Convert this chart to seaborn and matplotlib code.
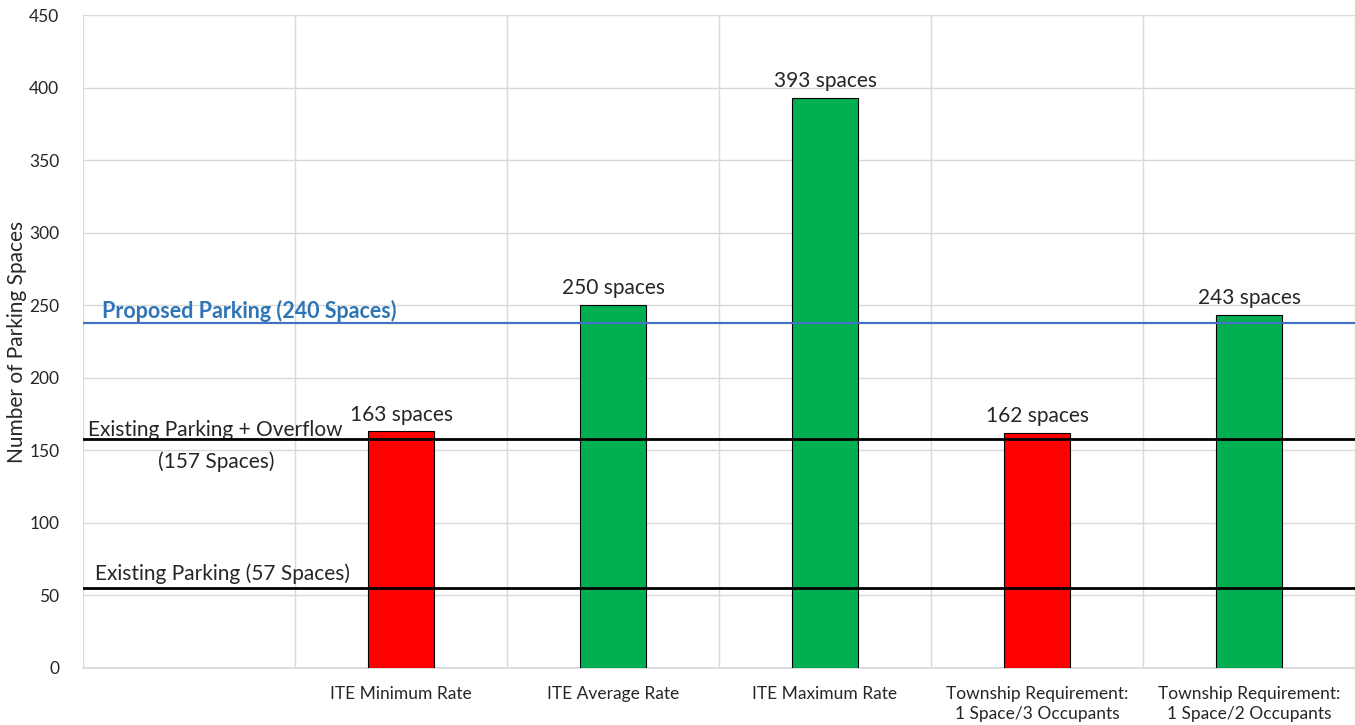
import matplotlib
matplotlib.use("Agg")
import matplotlib.pyplot as plt
import seaborn as sns
import pandas as pd
import numpy as np

categories = ["ITE Minimum Rate", "ITE Average Rate", "ITE Maximum Rate",
              "Township Requirement:\n1 Space/3 Occupants",
              "Township Requirement:\n1 Space/2 Occupants"]
spaces = [163, 250, 393, 162, 243]
bar_colors = ["#FF0000", "#00B050", "#00B050", "#FF0000", "#00B050"]
bar_labels = ["163 spaces", "250 spaces", "393 spaces", "162 spaces", "243 spaces"]

ref_values = [238, 158, 55]
ref_colors = ["#4472C4", "#000000", "#000000"]

y_ticks = [0, 50, 100, 150, 200, 250, 300, 350, 400, 450]

sns.set_theme(style="white")
plt.rcParams['font.family'] = ['Lato', 'DejaVu Sans']

fig = plt.figure(figsize=(13.55, 7.25), dpi=100)
ax = fig.add_axes([83/1355, 1 - 668/725, 1 - 83/1355, (668 - 15)/725])

df = pd.DataFrame({"cat": categories, "val": spaces})
sns.barplot(data=df, x="cat", y="val", hue="cat", palette=bar_colors, saturation=1,
            width=0.31, edgecolor="black", linewidth=0.8, legend=False, ax=ax, zorder=3)

ax.set_xlim(-1.5, len(categories) - 0.5)
ax.set_ylim(0, 450)
ax.set_yticks(y_ticks)
ax.set_xticks(range(len(categories)))
ax.set_xticklabels(categories, fontsize=12.5, linespacing=1.3)
ax.set_xticks(np.arange(-1.5, len(categories), 1.0), minor=True)
ax.tick_params(axis='y', length=0, labelsize=12.5, pad=17)
ax.tick_params(axis='x', length=0, pad=13)
ax.grid(axis='y', color="#D9D9D9", linewidth=1, zorder=0)
ax.grid(axis='x', which='minor', color="#D9D9D9", linewidth=1, zorder=0)
ax.set_axisbelow(True)
for s in ["top", "right", "left"]:
    ax.spines[s].set_visible(False)
ax.spines["bottom"].set_color("#D9D9D9")
ax.set_xlabel("")
ax.set_ylabel("Number of Parking Spaces", fontsize=15)
ax.yaxis.set_label_coords(-0.044, 0.5)

for i, v in enumerate(ref_values):
    ax.axhline(v, color=ref_colors[i], linewidth=2 if i else 1.6, zorder=4)

ax.text(-1.41, 246, "Proposed Parking (240 Spaces)", color="#2E75B6",
        fontsize=15.5, fontweight="bold", va="center", ha="left")
ax.text(-1.475, 164, "Existing Parking + Overflow", fontsize=15, va="center", ha="left")
ax.text(-0.87, 142, "(157 Spaces)", fontsize=15, va="center", ha="center")
ax.text(-1.445, 65, "Existing Parking (57 Spaces)", fontsize=15, va="center", ha="left")

for i, (v, lab) in enumerate(zip(spaces, bar_labels)):
    ax.annotate(lab, (i, v), xytext=(0, 5), textcoords="offset points",
                ha="center", va="bottom", fontsize=15)

fig.savefig("out.png", dpi=100)
